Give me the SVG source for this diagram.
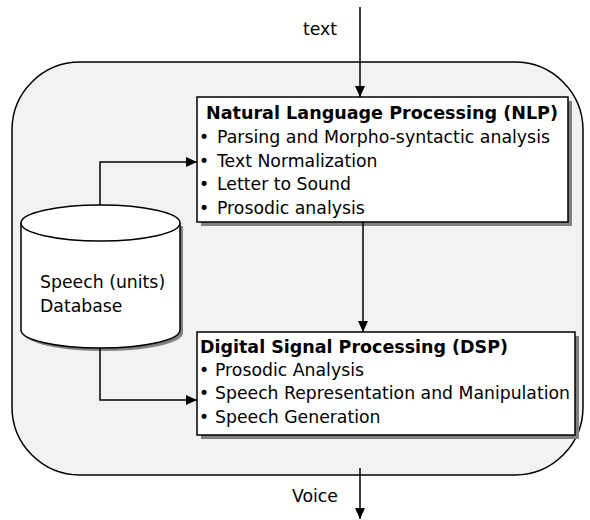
<svg xmlns="http://www.w3.org/2000/svg" width="590" height="520" viewBox="0 0 590 520">
<style>
  .t { font-family: "DejaVu Sans", Verdana, sans-serif; font-size: 17.3px; fill: #000; }
  .b { font-weight: bold; }
  .box { fill: #fff; stroke: #000; stroke-width: 1.5; }
  .shadow { fill: #808080; }
  .conn { fill: none; stroke: #000; stroke-width: 1.5; }
</style>
<defs>
  <marker id="arr" markerUnits="userSpaceOnUse" markerWidth="12" markerHeight="11" refX="11" refY="5" orient="auto">
    <path d="M0,0 L11,5 L0,10 z" fill="#000"/>
  </marker>
</defs>
<rect width="590" height="520" fill="#fff"/>
<g id="system">
  <rect x="12" y="62" width="571" height="413" rx="68" ry="68" fill="#f3f2f3" stroke="#000" stroke-width="1.5"/>
</g>
<g id="db">
  <path class="shadow" d="M24,226 L24,333 A79.5,18 0 0 0 183,333 L183,226 z"/>
  <path d="M21,223 L21,330 A79.5,18 0 0 0 180,330 L180,223" fill="#fff" stroke="#000" stroke-width="1.5"/>
  <ellipse cx="100.5" cy="223" rx="79.5" ry="18" fill="#fff" stroke="#000" stroke-width="1.5"/>
  <text class="t" x="40" y="288">Speech (units)</text>
  <text class="t" x="40" y="312">Database</text>
</g>
<g id="nlp">
  <rect class="shadow" x="201" y="101" width="371" height="125"/>
  <rect class="box" x="197" y="97" width="371" height="125"/>
  <text class="t b" x="206" y="119" textLength="352" lengthAdjust="spacingAndGlyphs">Natural Language Processing (NLP)</text>
  <text class="t" x="199" y="143">•</text><text class="t" x="217" y="143" textLength="333" lengthAdjust="spacingAndGlyphs">Parsing and Morpho-syntactic analysis</text>
  <text class="t" x="199" y="167">•</text><text class="t" x="217" y="167">Text Normalization</text>
  <text class="t" x="199" y="190">•</text><text class="t" x="217" y="190">Letter to Sound</text>
  <text class="t" x="199" y="214">•</text><text class="t" x="217" y="214">Prosodic analysis</text>
</g>
<g id="dsp">
  <rect class="shadow" x="201" y="336" width="378" height="103"/>
  <rect class="box" x="197" y="332" width="378" height="103"/>
  <text class="t b" x="200" y="353" textLength="308" lengthAdjust="spacingAndGlyphs">Digital Signal Processing (DSP)</text>
  <text class="t" x="199" y="376">•</text><text class="t" x="215" y="376">Prosodic Analysis</text>
  <text class="t" x="199" y="399">•</text><text class="t" x="215" y="399" textLength="355" lengthAdjust="spacingAndGlyphs">Speech Representation and Manipulation</text>
  <text class="t" x="199" y="423">•</text><text class="t" x="215" y="423">Speech Generation</text>
</g>
<g id="labels">
  <text class="t" x="303" y="35">text</text>
  <text class="t" x="292" y="502">Voice</text>
</g>
<g id="connectors">
  <path class="conn" d="M360,7 L360,97" marker-end="url(#arr)"/>
  <path class="conn" d="M363,222 L363,332" marker-end="url(#arr)"/>
  <path class="conn" d="M100,205 L100,162 L197,162" marker-end="url(#arr)"/>
  <path class="conn" d="M100,348 L100,400 L197,400" marker-end="url(#arr)"/>
  <path class="conn" d="M360,468 L360,519" marker-end="url(#arr)"/>
</g>
</svg>
